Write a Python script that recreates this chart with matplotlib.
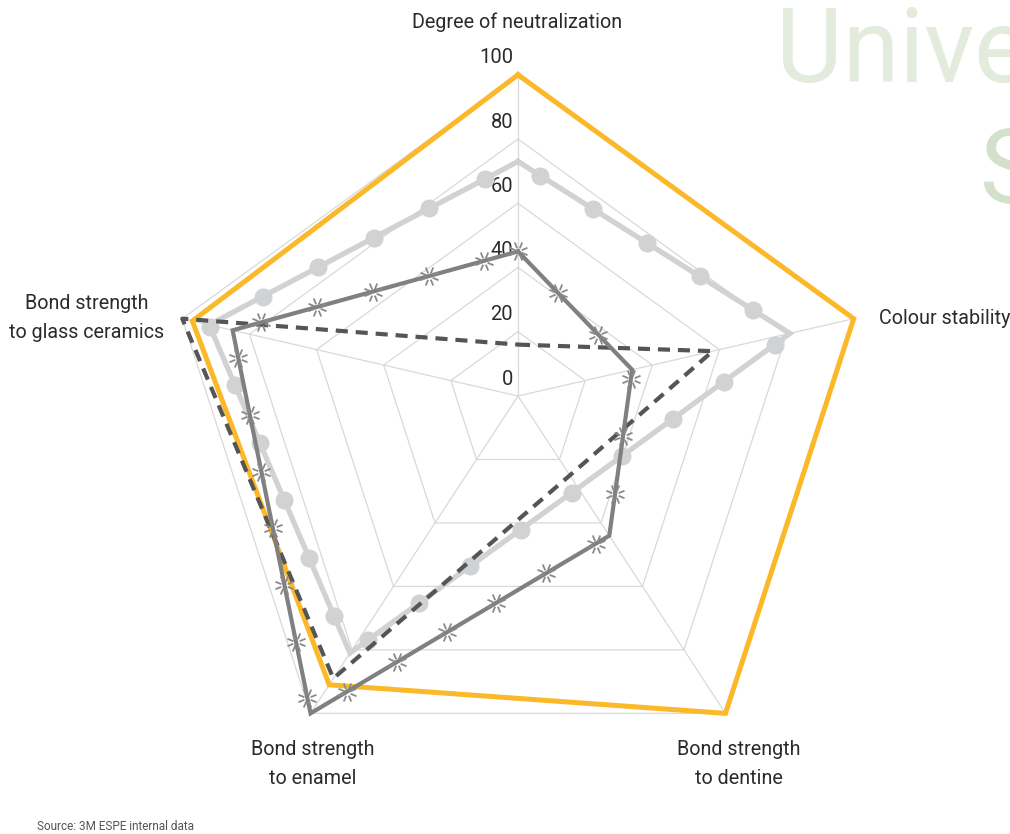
import numpy as np
import matplotlib
matplotlib.use('Agg')
import matplotlib.pyplot as plt
from matplotlib.path import Path

# categories, clockwise from the top
categories = ['Degree of neutralization', 'Colour stability', 'Bond strength\nto dentine',
              'Bond strength\nto enamel', 'Bond strength\nto glass ceramics']
tick_values = [0, 20, 40, 60, 80, 100]

orange_vals = [100, 100, 100, 91, 97]
light_vals = [73, 81, 29, 81, 92]
dark_vals = [45, 34, 44, 100, 85]
dashed_vals = [16, 58, 25, 89, 100]

plt.rcParams['font.family'] = ['Roboto', 'DejaVu Sans']

# spoke directions (chart is drawn slightly skewed, as in the original artwork)
ang = np.deg2rad(90 - 72 * np.arange(5))
dx = np.cos(ang)
dy = np.sin(ang) - 0.09


def xy(vals):
    v = np.asarray(vals, dtype=float)
    return v * dx, v * dy


def along(x, y, step, start):
    # positions spaced evenly along the closed outline, for the pattern markers
    px = np.append(x, x[0])
    py = np.append(y, y[0])
    cum = np.concatenate([[0], np.cumsum(np.hypot(np.diff(px), np.diff(py)))])
    s = np.arange(start, cum[-1] - step * 0.4, step)
    return np.interp(s, cum, px), np.interp(s, cum, py)


# hollow asterisk marker
verts, codes = [], []
for a in np.deg2rad(np.arange(0, 360, 45) + 22.5):
    verts += [(0.35 * np.cos(a), 0.35 * np.sin(a)), (np.cos(a), np.sin(a))]
    codes += [Path.MOVETO, Path.LINETO]
star = Path(verts, codes)

fig = plt.figure(figsize=(10.1, 8.34), dpi=100)
ax = fig.add_axes([0, 0, 1, 1])
scale = 3.53  # px per unit
ax.set_xlim(-518 / scale, (1010 - 518) / scale)
ax.set_ylim(-(834 - 396) / scale, 396 / scale)
ax.axis('off')

# grid
grid_c = '#d9d9d9'
for r in tick_values[1:]:
    gx, gy = xy([r] * 5)
    ax.plot(np.append(gx, gx[0]), np.append(gy, gy[0]), color=grid_c, lw=0.9, zorder=1)
for k in range(5):
    ax.plot([0, 100 * dx[k]], [0, 100 * dy[k]], color=grid_c, lw=0.9, zorder=1)

for t in tick_values:
    ax.text(-1.4, t * dy[0] + 4.8, str(t), ha='right', va='center', fontsize=14.5,
            color='#2b2b2b')

# series
ox, oy = xy(orange_vals)
ax.plot(np.append(ox, ox[0]), np.append(oy, oy[0]), color='#fbb829', lw=3.6,
        solid_joinstyle='miter', zorder=3)

lx, ly = xy(light_vals)
ax.plot(np.append(lx, lx[0]), np.append(ly, ly[0]), color='#d1d2d4', lw=3.8,
        solid_joinstyle='miter', zorder=4)
mx, my = along(lx, ly, 17.8, 7.5)
ax.plot(mx, my, 'o', color='#d1d2d4', ms=13, mew=0, zorder=4)

sx, sy = xy(dashed_vals)
ax.plot(np.append(sx, sx[0]), np.append(sy, sy[0]), color='#555555', lw=3,
        ls=(0, (2.9, 1.9)), zorder=5)

kx, ky = xy(dark_vals)
ax.plot(np.append(kx, kx[0]), np.append(ky, ky[0]), color='#808080', lw=3,
        solid_joinstyle='miter', zorder=6)
ax2x, ax2y = along(kx, ky, 16.4, 0)
ax.plot(ax2x, ax2y, ls='none', marker=star, color='#8a8a8a', ms=13, mew=1.3, zorder=6)

# category labels
lab = dict(fontsize=14.2, color='#2b2b2b', linespacing=1.7)
fig.text(517 / 1010, 1 - 22 / 834, categories[0], ha='center', va='center', **lab)
fig.text(879 / 1010, 1 - 319 / 834, categories[1], ha='left', va='center', **lab)
fig.text(739 / 1010, 1 - 764 / 834, categories[2], ha='center', va='center', **lab)
fig.text(313 / 1010, 1 - 764 / 834, categories[3], ha='center', va='center', **lab)
fig.text(87 / 1010, 1 - 318 / 834, categories[4], ha='center', va='center', **lab)

fig.text(37 / 1010, 1 - 826 / 834, 'Source: 3M ESPE internal data', ha='left', va='center',
         fontsize=8.5, color='#555555')

# watermark
fig.text(776 / 1010, 1 - 82 / 834, 'University', ha='left', va='baseline', fontsize=74,
         color='#e3ebdc', zorder=0)
fig.text(980 / 1010, 1 - 203 / 834, 'S', ha='left', va='baseline', fontsize=74,
         color='#d3e1cb', zorder=0)

fig.savefig('out.png', dpi=100)
